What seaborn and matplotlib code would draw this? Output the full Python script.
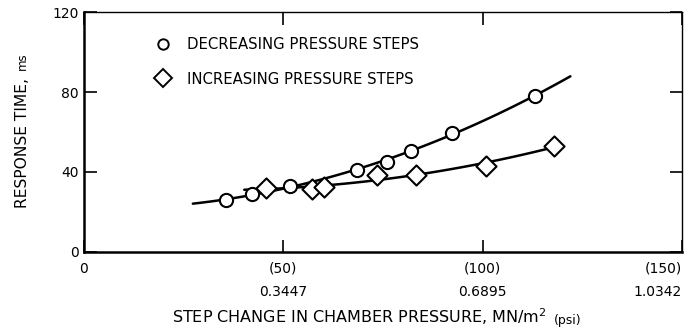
import numpy as np
import pandas as pd
import matplotlib
matplotlib.use("Agg")
import matplotlib.pyplot as plt
import seaborn as sns

# Response time vs. step change in chamber pressure (psi on the axis scale)
dec_psi = [35.7, 42.1, 51.6, 68.5, 75.9, 81.9, 92.4, 113.1]
dec_ms = [26.0, 28.8, 33.0, 41.0, 45.2, 50.7, 59.7, 78.0]
inc_psi = [45.7, 57.2, 60.3, 73.4, 83.2, 100.8, 117.9]
inc_ms = [32.1, 31.5, 32.3, 38.5, 38.5, 43.2, 53.0]

# extent of the faired curves through each series
dec_curve_span = [27.3, 122.0]
inc_curve_span = [40.2, 118.0]

x_ticks = [0, 50, 100, 150]
x_tick_labels = ["0", "(50)\n0.3447", "(100)\n0.6895", "(150)\n1.0342"]
y_ticks = [0, 40, 80, 120]

legend_labels = ["DECREASING PRESSURE STEPS", "INCREASING PRESSURE STEPS"]

sns.set_theme(style="ticks")
plt.rcParams["font.family"] = ["DejaVu Sans"]
plt.rcParams["font.size"] = 10
for key in ["text.color", "axes.labelcolor", "xtick.color", "ytick.color",
            "axes.edgecolor"]:
    plt.rcParams[key] = "black"

fig = plt.figure(figsize=(6.97, 3.31), dpi=100)
ax = fig.add_axes([0.1205, 0.2387, 0.8580, 0.7250])

pts = pd.DataFrame({
    "psi": dec_psi + inc_psi,
    "ms": dec_ms + inc_ms,
    "series": [legend_labels[0]] * len(dec_psi) + [legend_labels[1]] * len(inc_psi),
})


def fair(xs, ys, span, deg=2):
    coef = np.polyfit(xs, ys, deg)
    xx = np.linspace(span[0], span[1], 120)
    return pd.DataFrame({"psi": xx, "ms": np.polyval(coef, xx)})


dec_fit = fair(dec_psi, dec_ms, dec_curve_span)
inc_fit = fair(inc_psi, inc_ms, inc_curve_span)
sns.lineplot(data=dec_fit, x="psi", y="ms", ax=ax, color="black", lw=1.8, sort=False)
sns.lineplot(data=inc_fit, x="psi", y="ms", ax=ax, color="black", lw=1.8, sort=False)

sns.scatterplot(data=pts[pts.series == legend_labels[0]], x="psi", y="ms", ax=ax,
                marker="o", s=90, facecolor="white", edgecolor="black",
                linewidth=1.5, zorder=5)
sns.scatterplot(data=pts[pts.series == legend_labels[1]], x="psi", y="ms", ax=ax,
                marker="D", s=105, facecolor="white", edgecolor="black",
                linewidth=1.5, zorder=5)

ax.set_xlim(0, 150)
ax.set_ylim(0, 120)
ax.set_xticks(x_ticks)
ax.set_xticklabels(x_tick_labels, linespacing=1.8)
ax.set_yticks(y_ticks)
ax.tick_params(direction="in", length=9, width=1.2, color="black",
               labelsize=10, labelcolor="black", top=True, right=True)
ax.tick_params(axis="x", pad=7)
ax.tick_params(axis="y", pad=4)
last = ax.get_xticklabels()[-1]
last.set_ha("right")
last.set_multialignment("right")

for side in ["left", "bottom"]:
    ax.spines[side].set_linewidth(1.8)
for side in ["top", "right"]:
    ax.spines[side].set_linewidth(1.0)

ax.set_xlabel("")
ax.set_ylabel("")

# legend: markers and text inside the plot area
handles = [
    plt.Line2D([], [], ls="none", marker="o", ms=7.5, mfc="white", mec="black", mew=1.4),
    plt.Line2D([], [], ls="none", marker="D", ms=9, mfc="white", mec="black", mew=1.4),
]
ax.legend(handles, legend_labels, loc="upper left", bbox_to_anchor=(0.12, 0.895),
          frameon=False, fontsize=10.7, handletextpad=1.1, labelspacing=1.3,
          handlelength=1.0, borderaxespad=0, borderpad=0)

# axis titles with smaller unit text
xl = fig.text(0.247, 0.024, "STEP CHANGE IN CHAMBER PRESSURE, MN/m$^{2}$",
              ha="left", va="baseline", fontsize=11.5)
ax.annotate("(psi)", xy=(1, 0), xycoords=xl, xytext=(5, 0),
            textcoords="offset points", ha="left", va="bottom", fontsize=9)
yl = fig.text(0.022, 0.567, "RESPONSE TIME,", rotation=90,
              ha="left", va="center", fontsize=11.2)
ax.annotate("ms", xy=(0.5, 1), xycoords=yl, xytext=(0, 6),
            textcoords="offset points", rotation=90, ha="center", va="bottom",
            fontsize=8.5)

fig.savefig("out.png", dpi=100, facecolor="white")
